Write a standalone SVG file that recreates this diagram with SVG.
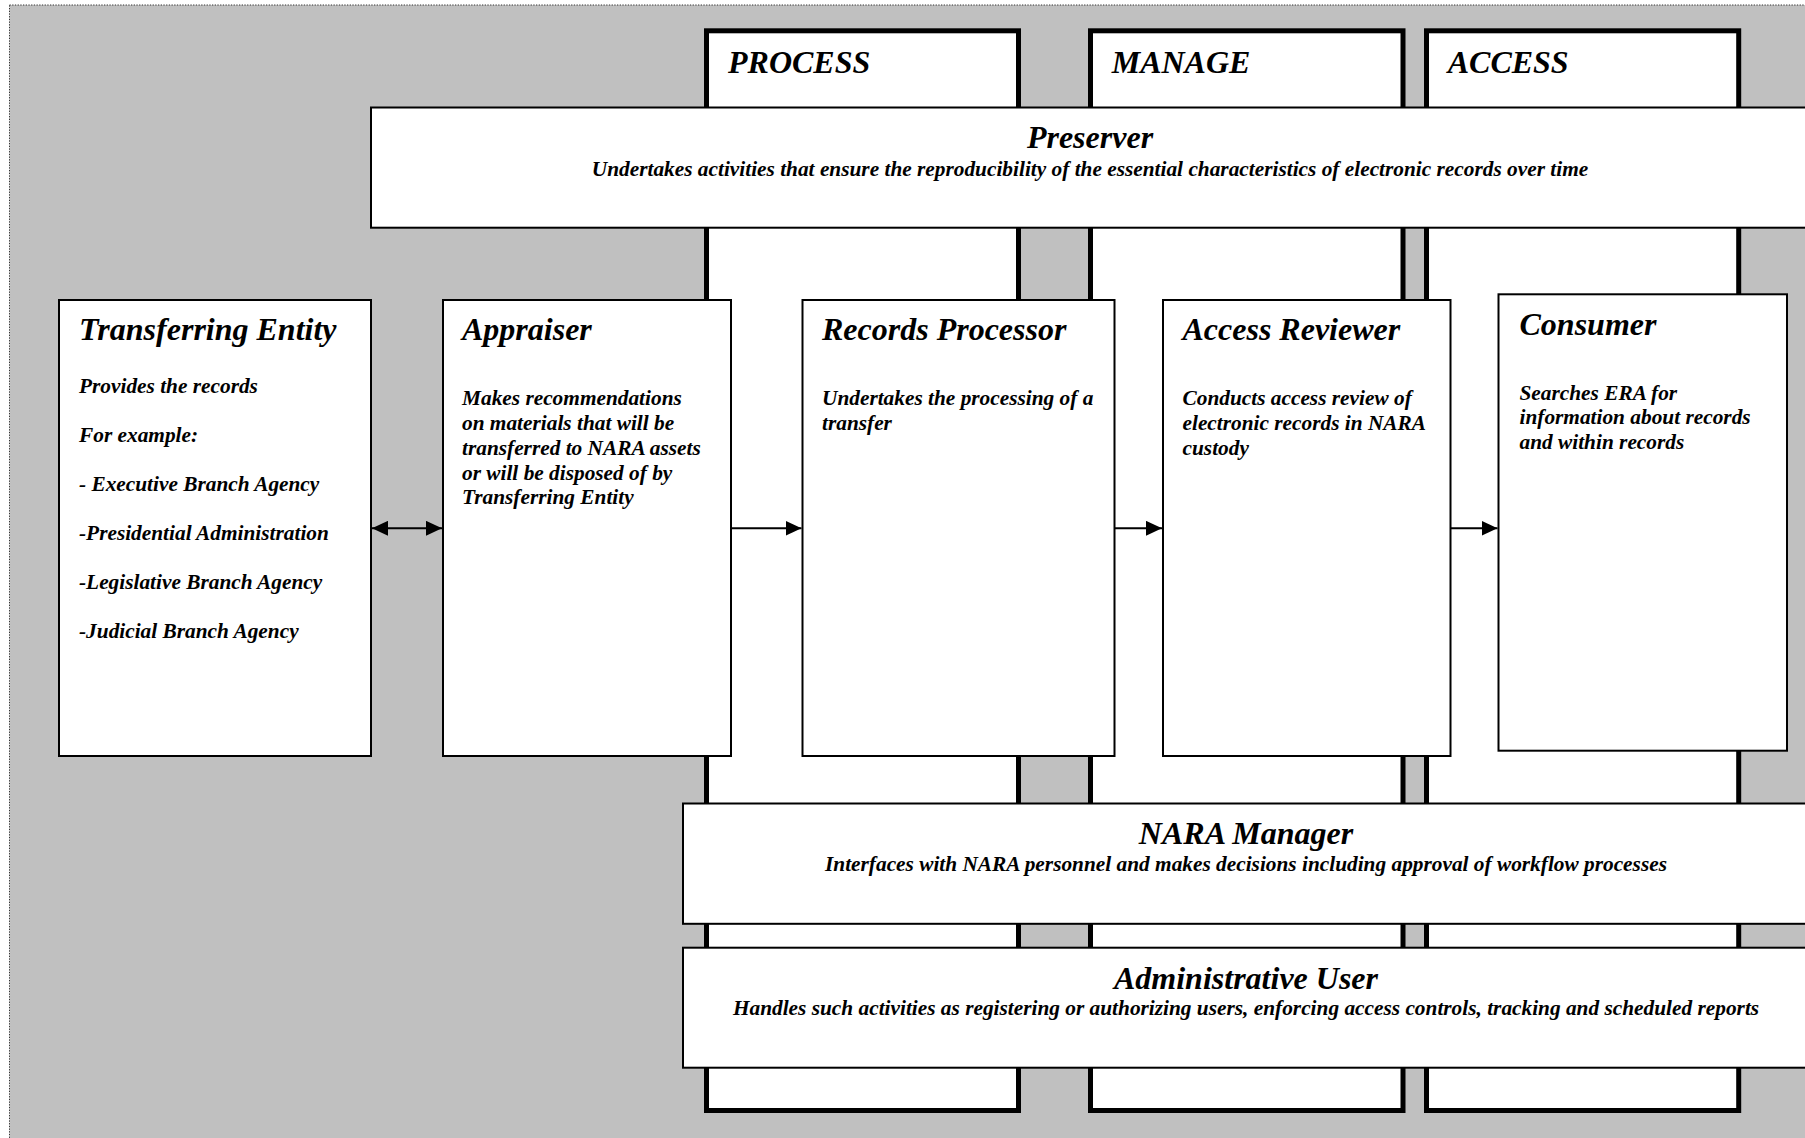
<svg xmlns="http://www.w3.org/2000/svg" width="1805" height="1138" viewBox="0 0 1805 1138">
<defs>
<style>
.lane{fill:#fff;stroke:#000;stroke-width:5}
.box{fill:#fff;stroke:#000;stroke-width:2}
.t{font-family:"Liberation Serif","Times New Roman",serif;font-weight:bold;font-style:italic;fill:#000}
.h{font-size:32px}
.b{font-size:21.33px}
.c{text-anchor:middle}
.conn{stroke:#000;stroke-width:2;fill:none}
</style>
<marker id="ah" viewBox="0 0 16 15" refX="16" refY="7.5" markerWidth="16" markerHeight="15" markerUnits="userSpaceOnUse" orient="auto-start-reverse">
<path d="M0,0 L16,7.5 L0,15 Z" fill="#000"/>
</marker>
</defs>
<rect x="0" y="0" width="1805" height="1138" fill="#fff"/>
<rect x="9.5" y="5" width="1810" height="1150" fill="#c0c0c0" stroke="#333" stroke-width="1" stroke-dasharray="1.3 1.4"/>

<g id="lane-process">
<rect class="lane" x="706.5" y="30.8" width="312" height="1079.7"/>
<text class="t h" x="728" y="73">PROCESS</text>
</g>
<g id="lane-manage">
<rect class="lane" x="1090.5" y="30.8" width="312.5" height="1079.7"/>
<text class="t h" x="1111.7" y="73">MANAGE</text>
</g>
<g id="lane-access">
<rect class="lane" x="1426.5" y="30.8" width="312.2" height="1079.7"/>
<text class="t h" x="1447.7" y="73">ACCESS</text>
</g>

<g id="preserver">
<rect class="box" x="371" y="107.5" width="1440" height="120.2"/>
<text class="t h c" x="1090" y="148">Preserver</text>
<text class="t b c" x="1090" y="175.5">Undertakes activities that ensure the reproducibility of the essential characteristics of electronic records over time</text>
</g>

<g id="transferring-entity">
<rect class="box" x="59" y="300" width="312" height="456"/>
<text class="t h" x="79" y="340">Transferring Entity</text>
<text class="t b" x="79" y="392.5">Provides the records</text>
<text class="t b" x="79" y="441.6">For example:</text>
<text class="t b" x="79" y="490.7">- Executive Branch Agency</text>
<text class="t b" x="79" y="539.8">-Presidential Administration</text>
<text class="t b" x="79" y="588.9">-Legislative Branch Agency</text>
<text class="t b" x="79" y="638">-Judicial Branch Agency</text>
</g>

<g id="appraiser">
<rect class="box" x="443" y="300" width="288" height="456"/>
<text class="t h" x="462" y="340">Appraiser</text>
<text class="t b" x="462" y="405.2">Makes recommendations</text>
<text class="t b" x="462" y="430">on materials that will be</text>
<text class="t b" x="462" y="454.7">transferred to NARA assets</text>
<text class="t b" x="462" y="479.5">or will be disposed of by</text>
<text class="t b" x="462" y="504.2">Transferring Entity</text>
</g>

<g id="records-processor">
<rect class="box" x="802.5" y="300" width="312" height="456"/>
<text class="t h" x="822" y="340">Records Processor</text>
<text class="t b" x="822" y="405.2">Undertakes the processing of a</text>
<text class="t b" x="822" y="430">transfer</text>
</g>

<g id="access-reviewer">
<rect class="box" x="1163" y="300" width="287.5" height="456"/>
<text class="t h" x="1182.5" y="340">Access Reviewer</text>
<text class="t b" x="1182.5" y="405.2">Conducts access review of</text>
<text class="t b" x="1182.5" y="430">electronic records in NARA</text>
<text class="t b" x="1182.5" y="454.7">custody</text>
</g>

<g id="consumer">
<rect class="box" x="1498.5" y="294.3" width="288.5" height="456.4"/>
<text class="t h" x="1519.5" y="334.5">Consumer</text>
<text class="t b" x="1519.5" y="399.5">Searches ERA for</text>
<text class="t b" x="1519.5" y="424.2">information about records</text>
<text class="t b" x="1519.5" y="449">and within records</text>
</g>

<g id="nara-manager">
<rect class="box" x="683" y="803.5" width="1130" height="120.3"/>
<text class="t h c" x="1246" y="844">NARA Manager</text>
<text class="t b c" x="1246" y="871.3">Interfaces with NARA personnel and makes decisions including approval of workflow processes</text>
</g>

<g id="administrative-user">
<rect class="box" x="683" y="947.7" width="1130" height="120"/>
<text class="t h c" x="1246" y="989">Administrative User</text>
<text class="t b c" x="1246" y="1015.3">Handles such activities as registering or authorizing users, enforcing access controls, tracking and scheduled reports</text>
</g>

<g id="connectors">
<line class="conn" x1="372" y1="528.3" x2="442" y2="528.3" marker-start="url(#ah)" marker-end="url(#ah)"/>
<line class="conn" x1="731" y1="528.3" x2="801.5" y2="528.3" marker-end="url(#ah)"/>
<line class="conn" x1="1114.5" y1="528.3" x2="1162" y2="528.3" marker-end="url(#ah)"/>
<line class="conn" x1="1450.5" y1="528.3" x2="1497.5" y2="528.3" marker-end="url(#ah)"/>
</g>
</svg>
